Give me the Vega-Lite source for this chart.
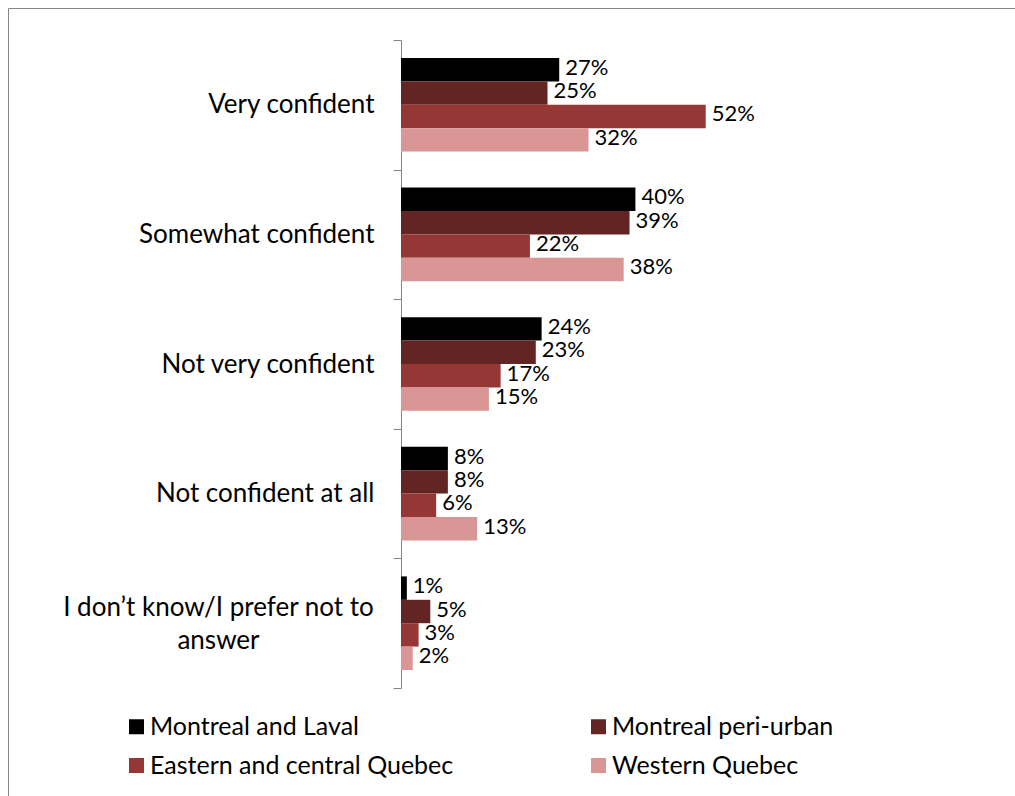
{
  "$schema": "https://vega.github.io/schema/vega-lite/v6.json",
  "width": 1007,
  "height": 788,
  "autosize": {"type": "none"},
  "padding": {"left": 8, "top": 8, "right": 0, "bottom": 0},
  "background": "white",
  "config": {"view": {"stroke": "#868686", "strokeWidth": 1}, "font": "Lato"},
  "data": {
    "values": [
      {"category": "Very confident", "region": "Montreal and Laval", "value": 0.27},
      {"category": "Very confident", "region": "Montreal peri-urban", "value": 0.25},
      {"category": "Very confident", "region": "Eastern and central Quebec", "value": 0.52},
      {"category": "Very confident", "region": "Western Quebec", "value": 0.32},
      {"category": "Somewhat confident", "region": "Montreal and Laval", "value": 0.40},
      {"category": "Somewhat confident", "region": "Montreal peri-urban", "value": 0.39},
      {"category": "Somewhat confident", "region": "Eastern and central Quebec", "value": 0.22},
      {"category": "Somewhat confident", "region": "Western Quebec", "value": 0.38},
      {"category": "Not very confident", "region": "Montreal and Laval", "value": 0.24},
      {"category": "Not very confident", "region": "Montreal peri-urban", "value": 0.23},
      {"category": "Not very confident", "region": "Eastern and central Quebec", "value": 0.17},
      {"category": "Not very confident", "region": "Western Quebec", "value": 0.15},
      {"category": "Not confident at all", "region": "Montreal and Laval", "value": 0.08},
      {"category": "Not confident at all", "region": "Montreal peri-urban", "value": 0.08},
      {"category": "Not confident at all", "region": "Eastern and central Quebec", "value": 0.06},
      {"category": "Not confident at all", "region": "Western Quebec", "value": 0.13},
      {"category": "I don’t know/I prefer not to answer", "region": "Montreal and Laval", "value": 0.01},
      {"category": "I don’t know/I prefer not to answer", "region": "Montreal peri-urban", "value": 0.05},
      {"category": "I don’t know/I prefer not to answer", "region": "Eastern and central Quebec", "value": 0.03},
      {"category": "I don’t know/I prefer not to answer", "region": "Western Quebec", "value": 0.02}
    ]
  },
  "encoding": {
    "y": {
      "field": "category",
      "type": "nominal",
      "sort": ["Very confident", "Somewhat confident", "Not very confident", "Not confident at all", "I don’t know/I prefer not to answer"],
      "scale": {"range": [32, 680], "paddingInner": 0, "paddingOuter": 0},
      "axis": {
        "title": null,
        "orient": "left",
        "offset": -393,
        "domainColor": "#868686",
        "tickColor": "#868686",
        "tickSize": 8,
        "tickBand": "extent",
        "labelFontSize": 26,
        "labelColor": "black",
        "labelLimit": 500,
        "labelOverlap": false,
        "labelFlush": false,
        "labelLineHeight": 33,
        "labelExpr": "datum.value == 'I don’t know/I prefer not to answer' ? ['I don’t know/I prefer not to', 'answer'] : datum.value",
        "labelAlign": {"condition": {"test": "datum.value == 'I don’t know/I prefer not to answer'", "value": "center"}, "value": "right"},
        "labelPadding": {"condition": {"test": "datum.value == 'I don’t know/I prefer not to answer'", "value": 175}, "value": 19},
        "labelOffset": {"condition": {"test": "datum.value == 'I don’t know/I prefer not to answer'", "value": -16}, "value": 0}
      }
    },
    "yOffset": {
      "field": "region",
      "type": "nominal",
      "sort": ["Montreal and Laval", "Montreal peri-urban", "Eastern and central Quebec", "Western Quebec"],
      "scale": {"paddingInner": 0, "paddingOuter": 0.77}
    },
    "x": {
      "field": "value",
      "type": "quantitative",
      "scale": {"domain": [0, 1], "range": [393, 979]},
      "axis": null
    }
  },
  "layer": [
    {
      "mark": {"type": "bar"},
      "encoding": {
        "color": {
          "field": "region",
          "type": "nominal",
          "scale": {
            "domain": ["Montreal and Laval", "Montreal peri-urban", "Eastern and central Quebec", "Western Quebec"],
            "range": ["#000000", "#632523", "#953735", "#D99694"]
          },
          "legend": {
            "title": null,
            "orient": "none",
            "direction": "horizontal",
            "legendX": 116,
            "legendY": 706,
            "columns": 2,
            "columnPadding": 132,
            "rowPadding": 13,
            "symbolType": "square",
            "symbolSize": 225,
            "symbolStrokeWidth": 0,
            "labelFontSize": 25,
            "labelColor": "black",
            "labelOffset": 1,
            "labelLimit": 500,
            "padding": 0
          }
        }
      }
    },
    {
      "mark": {"type": "text", "align": "left", "baseline": "middle", "dx": 6, "dy": -2, "fontSize": 22, "color": "black"},
      "encoding": {"text": {"field": "value", "type": "quantitative", "format": ".0%"}}
    }
  ]
}
